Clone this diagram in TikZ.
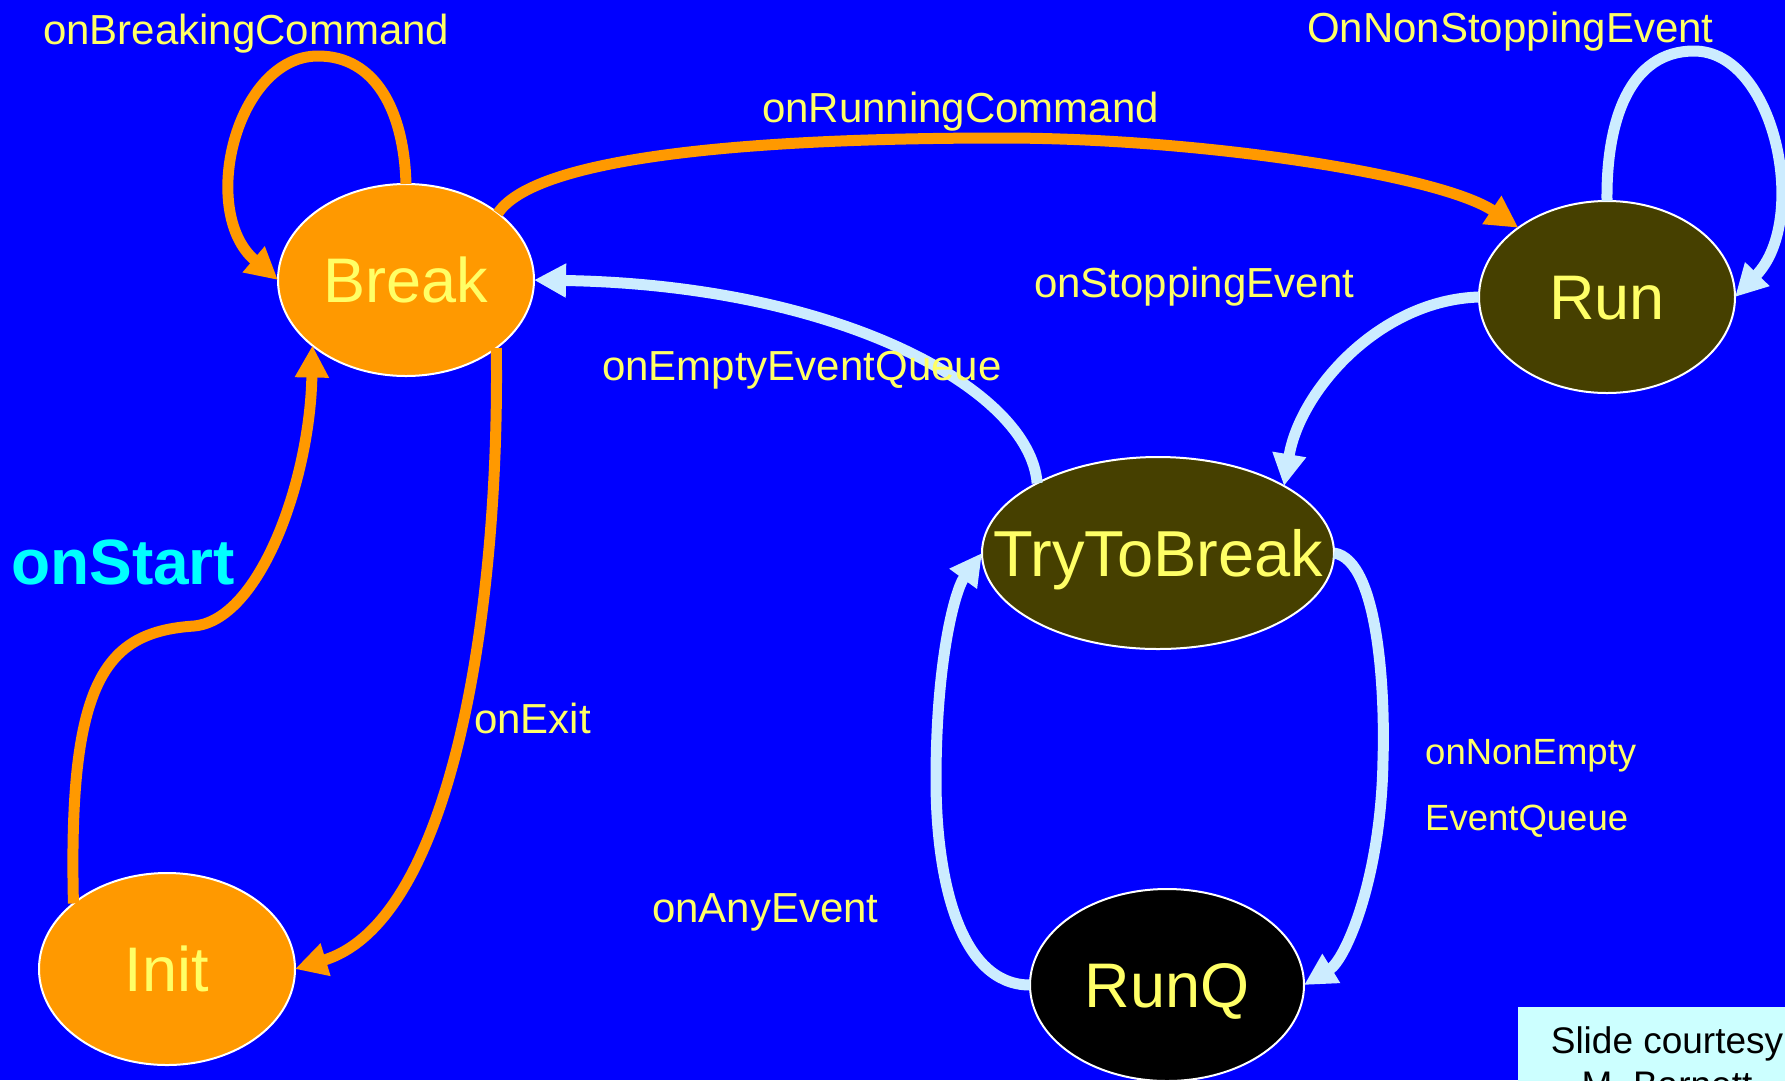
\documentclass[tikz,border=0pt]{standalone}
\usepackage{fontspec}
\setmainfont{Liberation Sans}
\usetikzlibrary{shapes.geometric,arrows.meta}
\definecolor{bgblue}{RGB}{0,0,255}
\definecolor{ppOrange}{RGB}{255,153,0}
\definecolor{ppLight}{RGB}{204,236,255}
\definecolor{ppOlive}{RGB}{70,64,0}
\definecolor{ppYellow}{RGB}{255,255,102}
\definecolor{ppCyan}{RGB}{0,255,255}
\definecolor{ppBox}{RGB}{204,255,255}
\tikzset{
  stnode/.style={ellipse, draw=white, line width=2pt, inner sep=0pt, outer sep=0pt,
                 minimum width=256pt, minimum height=192pt},
  stext/.style={text=ppYellow, font=\fontsize{63}{70}\selectfont, inner sep=0pt,
                text height=45pt, text depth=0pt},
  lab/.style={text=ppYellow, font=\fontsize{42}{48}\selectfont, inner sep=0pt, anchor=base west},
  smalllab/.style={text=ppYellow, font=\fontsize{36.5}{42}\selectfont, inner sep=0pt, anchor=base west},
  conn/.style={line width=11pt, -{Triangle[length=32pt,width=32pt]}},
  oarrow/.style={conn, draw=ppOrange},
  barrow/.style={conn, draw=ppLight},
  credit/.style={text=black, font=\fontsize{37}{44}\selectfont, inner sep=0pt, anchor=base}
}
\begin{document}
\begin{tikzpicture}[x=1pt,y=-1pt]
\useasboundingbox (0,0) rectangle (1785,1080);
\clip (0,0) rectangle (1785,1080);
\fill[bgblue] (0,0) rectangle (1785,1080);

% states
\node[stnode, fill=ppOrange, label={[stext]center:Break}] (Break) at (406,280) {};
\node[stnode, fill=ppOlive, label={[stext]center:Run}] (Run) at (1607,297) {};
\node[stnode, fill=ppOlive, minimum width=352pt,
      label={[stext, font=\fontsize{65}{72}\selectfont, text height=46.5pt]center:TryToBreak}] (TB) at (1158,553) {};
\node[stnode, fill=black, minimum width=274pt, label={[stext]center:RunQ}] (RunQ) at (1167,985) {};
\node[stnode, fill=ppOrange, label={[stext]center:Init}] (Init) at (167,969) {};

% transitions
\draw[oarrow] (Break.north) .. controls (404,110) and (375,56) .. (318,56)
              .. controls (236,56) and (198,212) .. (Break.west);
\draw[oarrow] (Break.36) .. controls (540,150) and (800,138) .. (1002,138)
              .. controls (1200,138) and (1440,175) .. (Run.142);
\draw[barrow] (Run.north) .. controls (1606,120) and (1630,51) .. (1694,51)
              .. controls (1775,51) and (1810,220) .. (Run.east);
\draw[barrow] (Run.west) .. controls (1380,300) and (1300,390) .. (TB.28);
\draw[barrow] (TB.150.5) .. controls (1030,390) and (840,285) .. (Break.east);
\draw[barrow] (TB.east) .. controls (1380,560) and (1385,700) .. (1383,760)
              .. controls (1381,880) and (1345,960) .. (RunQ.east);
\draw[barrow] (RunQ.west) .. controls (960,985) and (936,880) .. (936,780)
              .. controls (936,660) and (955,590) .. (TB.west);
\draw[oarrow] (Break.-37) .. controls (500,600) and (455,920) .. (Init.east);
\draw[oarrow] (Init.145.5) .. controls (68,680) and (105,632) .. (194,626)
              .. controls (260,620) and (310,480) .. (Break.215);

% labels
\node[lab] (lBC) at (43,44) {onBreakingCommand};
\node[lab] (lRC) at (762,122) {onRunningCommand};
\node[lab] (lNS) at (1307,42) {OnNonStoppingEvent};
\node[lab] (lSE) at (1034,297) {onStoppingEvent};
\node[lab] (lEQ) at (602,380) {onEmptyEventQueue};
\node[lab] (lEx) at (474,733) {onExit};
\node[lab] (lAE) at (652,922) {onAnyEvent};
\node[smalllab] (lNE1) at (1425,764) {onNonEmpty};
\node[smalllab] (lNE2) at (1425,830) {EventQueue};
\node[text=ppCyan, font=\fontsize{64}{70}\selectfont\bfseries, inner sep=0pt, anchor=base west] (lStart) at (11,584) {onStart};

% credit box
\fill[ppBox] (1518,1007) rectangle (1800,1110);
\node[credit] (cr1) at (1667,1053) {Slide courtesy};
\node[credit] (cr2) at (1667,1097) {M. Barnett};
\end{tikzpicture}
\end{document}
